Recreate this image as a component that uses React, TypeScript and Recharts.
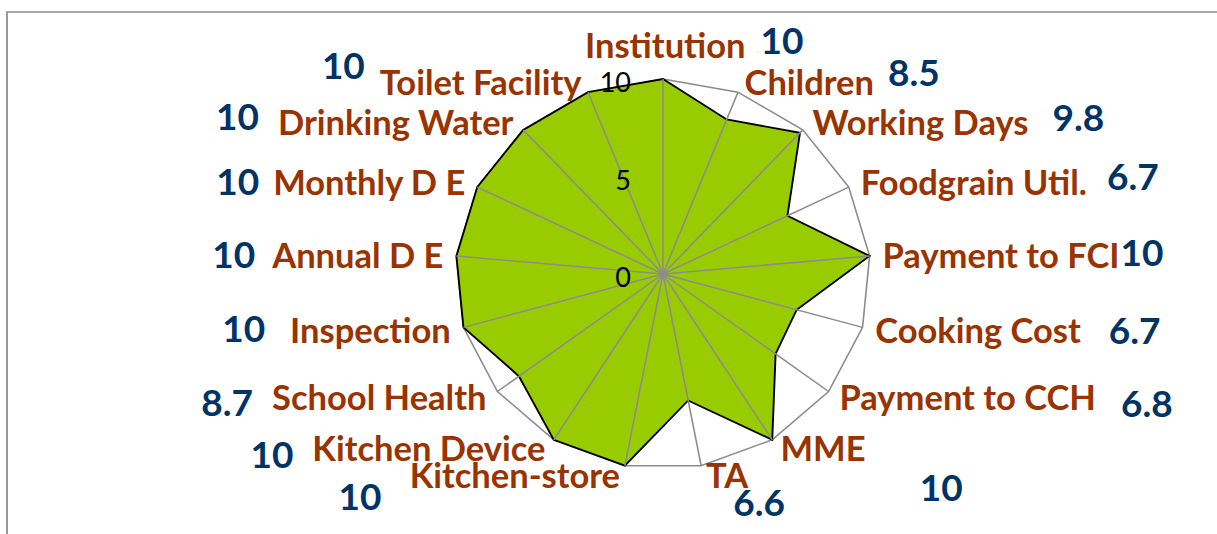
import React from 'react';
import { RadarChart, Radar, PolarGrid, PolarAngleAxis, PolarRadiusAxis } from 'recharts';

const categories = [
  'Institution',
  'Children',
  'Working Days',
  'Foodgrain Util.',
  'Payment to FCI',
  'Cooking Cost',
  'Payment to CCH',
  'MME',
  'TA',
  'Kitchen-store',
  'Kitchen Device',
  'School Health',
  'Inspection',
  'Annual D E',
  'Monthly D E',
  'Drinking Water',
  'Toilet Facility',
];

const scores = [10, 8.5, 9.8, 6.7, 10, 6.7, 6.8, 10, 6.6, 10, 10, 8.7, 10, 10, 10, 10, 10];

const radiusDomain: [number, number] = [0, 10];
const radiusTickCount = 3;

const data = categories.map((name, i) => ({ name, score: scores[i] }));

// layout
const W = 1217;
const H = 534;
const CX = 663;
const CY = 274;
const R = 195;
const SX = 1.064; // horizontal stretch of the plot (Excel-style elliptical radar)
const BROWN = '#993300';
const BLUE = '#003366';
const GREEN = '#99CC00';
const GRID = '#8c8c8c';
const FONT = 'Lato, "Open Sans", sans-serif';
const LABEL_SIZE = 34.5;
const VALUE_SIZE = 37;

// value-label placement (data labels): gap next to category name + vertical shift,
// or a detached offset from the outer vertex
type VL = { gap?: number; dy?: number; off?: [number, number] };
const valueLayout: VL[] = [
  { gap: 15, dy: -4 },
  { gap: 14, dy: -9 },
  { gap: 24, dy: -4 },
  { gap: 20, dy: -5 },
  { gap: 1, dy: -2 },
  { gap: 28, dy: 1 },
  { gap: 25, dy: 7 },
  { off: [169, 48] },
  { off: [58, 37] },
  { off: [-265, 31] },
  { gap: 19, dy: 7 },
  { gap: 19, dy: 6 },
  { gap: 25, dy: -1 },
  { gap: 17, dy: 0 },
  { gap: 14, dy: 0 },
  { gap: 19, dy: -5 },
  { gap: 15, dy: -16 },
];

function AngleTick(props: any) {
  const { payload, index } = props;
  const angle = payload.coordinate;
  const rad = (angle * Math.PI) / 180;
  const cos = Math.cos(rad);
  const sin = Math.sin(rad);
  const vx = CX + R * cos;
  const vy = CY - R * sin;
  const i = index;
  const name = String(payload.value);
  const val = String(scores[i]);
  const lay = valueLayout[i] || {};
  let anchor: 'start' | 'end' = 'start';
  let lx = 0;
  let ly = 0;
  if (Math.abs(cos) < 0.1) {
    anchor = 'start';
    lx = -78;
    ly = -33;
  } else if (cos > 0) {
    anchor = 'start';
    lx = 3 + 10 * cos;
    ly = -10 * sin;
  } else {
    anchor = 'end';
    lx = -(3 + 10 * Math.abs(cos));
    ly = -10 * sin;
  }
  const base = ly + 0.36 * LABEL_SIZE;
  const vBase = 0.36 * VALUE_SIZE;
  const common = { fontFamily: FONT, fontWeight: 700 } as any;
  const valueSpan = (dx: number, dy: number) => (
    <tspan dx={dx} dy={dy} fill={BLUE} fontSize={VALUE_SIZE}>
      {val}
    </tspan>
  );
  let content: React.ReactNode;
  if (lay.off) {
    content = (
      <>
        <text x={lx} y={base} textAnchor={anchor} fill={BROWN} fontSize={LABEL_SIZE} {...common}>
          {name}
        </text>
        <text x={lay.off[0]} y={lay.off[1] + vBase} textAnchor="middle" fill={BLUE} fontSize={VALUE_SIZE} {...common}>
          {val}
        </text>
      </>
    );
  } else if (anchor === 'start') {
    content = (
      <text x={lx} y={base} textAnchor="start" fontSize={LABEL_SIZE} {...common}>
        <tspan fill={BROWN}>{name}</tspan>
        {valueSpan(lay.gap || 0, lay.dy || 0)}
      </text>
    );
  } else {
    content = (
      <text x={lx} y={base} textAnchor="end" fontSize={LABEL_SIZE} {...common}>
        {valueSpan(0, lay.dy || 0)}
        <tspan dx={lay.gap || 0} dy={-(lay.dy || 0)} fill={BROWN}>
          {name}
        </tspan>
      </text>
    );
  }
  return <g transform={`translate(${vx},${vy}) scale(${1 / SX},1)`}>{content}</g>;
}

function RadiusTick(props: any) {
  const { x, y, payload } = props;
  return (
    <g transform={`translate(${x},${y}) scale(${1 / SX},1)`}>
      <text x={-32} y={13} textAnchor="end" fontSize={27} fill="#000" fontFamily={FONT}>
        {payload.value}
      </text>
    </g>
  );
}

export default function App() {
  const layer: React.CSSProperties = { position: 'absolute', left: 0, top: 0 };
  return (
    <div style={{ position: 'absolute', left: 0, top: 0, width: W, height: H, background: '#fff', overflow: 'hidden' }}>
      <div
        style={{
          position: 'absolute',
          left: 6,
          top: 11,
          width: W,
          height: H,
          borderLeft: '2px solid #9a9a9a',
          borderTop: '2px solid #a8a8a8',
        }}
      />
      <div style={{ ...layer, width: W, height: H, transform: `scaleX(${SX})`, transformOrigin: `${CX}px 0px` }}>
        <div style={layer}>
          <RadarChart width={W} height={H} data={data} cx={CX} cy={CY} outerRadius={R} startAngle={90} endAngle={-270}>
            <PolarGrid gridType="polygon" radialLines={false} polarRadius={[R]} stroke={GRID} strokeWidth={1.5} />
            <PolarAngleAxis dataKey="name" tick={false} tickLine={false} axisLine={false} />
            <PolarRadiusAxis angle={90} domain={radiusDomain} tickCount={radiusTickCount} tick={false} axisLine={false} tickLine={false} />
            <Radar dataKey="score" stroke="#000" strokeWidth={1.8} fill={GREEN} fillOpacity={1} isAnimationActive={false} />
          </RadarChart>
        </div>
        <div style={layer}>
          <RadarChart width={W} height={H} data={data} cx={CX} cy={CY} outerRadius={R} startAngle={90} endAngle={-270}>
            <PolarGrid gridType="polygon" radialLines={true} polarRadius={[]} stroke={GRID} strokeWidth={1.5} />
            <PolarAngleAxis dataKey="name" tick={<AngleTick />} tickLine={false} axisLine={false} />
            <PolarRadiusAxis angle={90} domain={radiusDomain} tickCount={radiusTickCount} tick={<RadiusTick />} axisLine={false} tickLine={false} />
            <Radar dataKey="score" stroke="none" fill="none" fillOpacity={0} isAnimationActive={false} legendType="none" />
          </RadarChart>
        </div>
      </div>
    </div>
  );
}
